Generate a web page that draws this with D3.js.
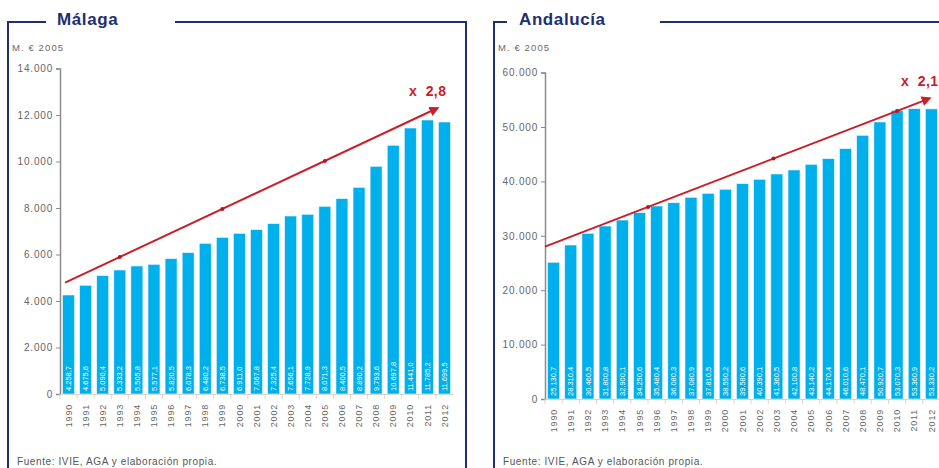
<!DOCTYPE html>
<html>
<head>
<meta charset="utf-8">
<script src="https://cdn.jsdelivr.net/npm/d3@7"></script>
<style>
  body { margin: 0; background: #fff; }
  svg { display: block; font-family: "Liberation Sans", Arial, sans-serif; }
</style>
</head>
<body>
<svg width="939" height="468"></svg>
<script>
var svg = d3.select('svg');

// data
var years = ['1990','1991','1992','1993','1994','1995','1996','1997','1998','1999','2000',
  '2001','2002','2003','2004','2005','2006','2007','2008','2009','2010','2011','2012'];

var malaga = [4258.7, 4675.6, 5090.4, 5333.2, 5505.8, 5577.1, 5820.5, 6078.3, 6480.2, 6738.5, 6911.0,
  7067.8, 7325.4, 7656.1, 7728.9, 8071.3, 8400.5, 8890.2, 9793.6, 10697.8, 11441.0, 11785.2, 11699.5];

var andalucia = [25130.7, 28310.4, 30460.5, 31800.8, 32900.1, 34250.6, 35480.4, 36080.3, 37080.9, 37810.5, 38550.2,
  39580.6, 40390.1, 41360.5, 42100.8, 43140.2, 44170.4, 46010.6, 48470.1, 50920.7, 53070.3, 53360.9, 53330.2];

var malagaTicks = [0, 2000, 4000, 6000, 8000, 10000, 12000, 14000];
var andaluciaTicks = [0, 10000, 20000, 30000, 40000, 50000, 60000];

// trend arrow: [year, value] start and end, plus marker years
var malagaTrend = [[1989.8, 4790], [2011.6, 12300]];
var andaluciaTrend = [[1989.5, 28000], [2011.9, 55270]];
var malagaTrendDots = [1993, 1999, 2005];
var andaluciaTrendDots = [1995.5, 2002.8, 2010];

var titles = ['Málaga', 'Andalucía'];
var factors = ['x  2,8', 'x  2,1'];
var unitLabel = 'M. € 2005';
var source = 'Fuente: IVIE, AGA y elaboración  propia.';

var es = d3.formatLocale({decimal: ',', thousands: '.', grouping: [3], currency: ['', '€']});
var fmtTick = es.format(',.0f');
var fmtBar = es.format(',.1f');

var navy = '#1d2f6f';
var barColor = '#00b0ec';
var red = '#c8202a';

svg.append('defs').append('marker')
    .attr('id', 'arrow')
    .attr('viewBox', '0 0 10 10')
    .attr('refX', 8)
    .attr('refY', 5)
    .attr('markerWidth', 5)
    .attr('markerHeight', 5)
    .attr('orient', 'auto')
    .append('path')
    .attr('d', 'M0,0 L10,5 L0,10 z')
    .attr('fill', red);

function drawPanel(p){
    var g = svg.append('g');

    // frame
    g.append('path')
        .attr('d', 'M' + p.frame[1] + ',22 H' + p.frame[0] + ' V470')
        .attr('fill', 'none')
        .attr('stroke', navy)
        .attr('stroke-width', 2);
    g.append('path')
        .attr('d', 'M' + p.frame[2] + ',22 H' + p.frame[3] + (p.frame[3] < 939 ? ' V470' : ''))
        .attr('fill', 'none')
        .attr('stroke', navy)
        .attr('stroke-width', 2);

    g.append('text')
        .attr('x', p.titleX)
        .attr('y', 25)
        .attr('font-size', 17)
        .attr('font-weight', 'bold')
        .attr('letter-spacing', 0.6)
        .attr('fill', navy)
        .text(p.title);

    g.append('text')
        .attr('x', p.frame[0] + 4)
        .attr('y', 51)
        .attr('font-size', 9.5)
        .attr('letter-spacing', 1.1)
        .attr('fill', '#6a6a6a')
        .text(unitLabel);

    var x = d3.scaleBand()
        .domain(years)
        .range([p.x0, p.x1])
        .paddingInner(0.3)
        .paddingOuter(0.15);

    var xYear = d3.scaleLinear()
        .domain([1989.5, 2012.5])
        .range([p.x0, p.x1]);

    var y = d3.scaleLinear()
        .domain([0, p.ticks[p.ticks.length - 1]])
        .range([p.yBottom, p.yTop]);

    // y axis
    var yAxis = g.append('g')
        .attr('transform', 'translate(' + p.x0 + ',0)')
        .call(d3.axisLeft(y).tickValues(p.ticks).tickFormat(fmtTick).tickSize(4).tickSizeOuter(4));
    yAxis.select('.domain').attr('stroke', '#8c8c8c').attr('stroke-width', 1.5);
    yAxis.selectAll('.tick line').attr('stroke', '#8c8c8c');
    yAxis.selectAll('.tick text')
        .attr('x', -7)
        .attr('font-size', 10)
        .attr('letter-spacing', 0.8)
        .attr('fill', '#666')
        .attr('font-family', '"Liberation Sans", Arial, sans-serif');

    // x axis
    var xAxis = g.append('g')
        .attr('transform', 'translate(0,' + p.yBottom + ')')
        .call(d3.axisBottom(x).tickSize(0).tickSizeOuter(0));
    xAxis.select('.domain').attr('stroke', '#d6d0c4').attr('stroke-width', 1);
    xAxis.selectAll('.tick text')
        .attr('transform', 'rotate(-90)')
        .attr('x', -10)
        .attr('y', 0)
        .attr('dy', '0.35em')
        .attr('text-anchor', 'end')
        .attr('font-size', 9)
        .attr('letter-spacing', 0.8)
        .attr('fill', '#666')
        .attr('font-family', '"Liberation Sans", Arial, sans-serif');

    // little separators between categories
    g.selectAll('.sep')
        .data(years)
        .enter()
        .append('line')
        .attr('class', 'sep')
        .attr('x1', function(d){ return x(d) - x.step() * x.paddingInner() / 2; })
        .attr('x2', function(d){ return x(d) - x.step() * x.paddingInner() / 2; })
        .attr('y1', p.yBottom)
        .attr('y2', p.yBottom + 5)
        .attr('stroke', '#ddd6ca');

    // bars
    g.selectAll('.bar')
        .data(p.values)
        .enter()
        .append('rect')
        .attr('class', 'bar')
        .attr('x', function(d, i){ return x(years[i]); })
        .attr('y', function(d){ return y(d); })
        .attr('width', x.bandwidth())
        .attr('height', function(d){ return p.yBottom - y(d); })
        .attr('fill', barColor)
        .attr('stroke', '#e8f7fd')
        .attr('stroke-width', 0.6);

    g.selectAll('.barlabel')
        .data(p.values)
        .enter()
        .append('text')
        .attr('class', 'barlabel')
        .attr('transform', function(d, i){
            return 'translate(' + (x(years[i]) + x.bandwidth() / 2) + ',' + (p.yBottom - 3) + ') rotate(-90)';
        })
        .attr('dy', '0.35em')
        .attr('font-size', p.labelSize)
        .attr('fill', '#fff')
        .text(function(d){ return fmtBar(d); });

    // trend arrow
    var line = d3.line()
        .x(function(d){ return xYear(d[0]); })
        .y(function(d){ return y(d[1]); });

    g.append('path')
        .datum(p.trend)
        .attr('d', line)
        .attr('fill', 'none')
        .attr('stroke', red)
        .attr('stroke-width', 2)
        .attr('marker-end', 'url(#arrow)');

    var t0 = p.trend[0], t1 = p.trend[1];
    g.selectAll('.tdot')
        .data(p.trendDots)
        .enter()
        .append('circle')
        .attr('class', 'tdot')
        .attr('cx', function(d){ return xYear(d); })
        .attr('cy', function(d){ return y(t0[1] + (d - t0[0]) / (t1[0] - t0[0]) * (t1[1] - t0[1])); })
        .attr('r', 2)
        .attr('fill', '#b01820');

    g.append('text')
        .attr('x', xYear(t1[0]) - 10)
        .attr('y', y(t1[1]) - 12)
        .attr('text-anchor', 'middle')
        .attr('font-size', 14)
        .attr('font-weight', 'bold')
        .attr('letter-spacing', 0.4)
        .attr('fill', red)
        .attr('xml:space', 'preserve')
        .style('white-space', 'pre')
        .text(p.factor);

    g.append('text')
        .attr('x', p.frame[0] + 9)
        .attr('y', 465)
        .attr('font-size', 10)
        .attr('letter-spacing', 0.6)
        .attr('fill', '#555')
        .text(source);
}

drawPanel({
    title: titles[0], factor: factors[0], values: malaga, ticks: malagaTicks,
    trend: malagaTrend, trendDots: malagaTrendDots,
    frame: [8, 46, 175, 466], titleX: 57,
    x0: 60, x1: 453, yBottom: 394, yTop: 68.5, labelSize: 7.5
});

drawPanel({
    title: titles[1], factor: factors[1], values: andalucia, ticks: andaluciaTicks,
    trend: andaluciaTrend, trendDots: andaluciaTrendDots,
    frame: [494, 507, 660, 945], titleX: 519,
    x0: 545, x1: 940, yBottom: 399, yTop: 72.6, labelSize: 7.5
});
</script>
</body>
</html>
